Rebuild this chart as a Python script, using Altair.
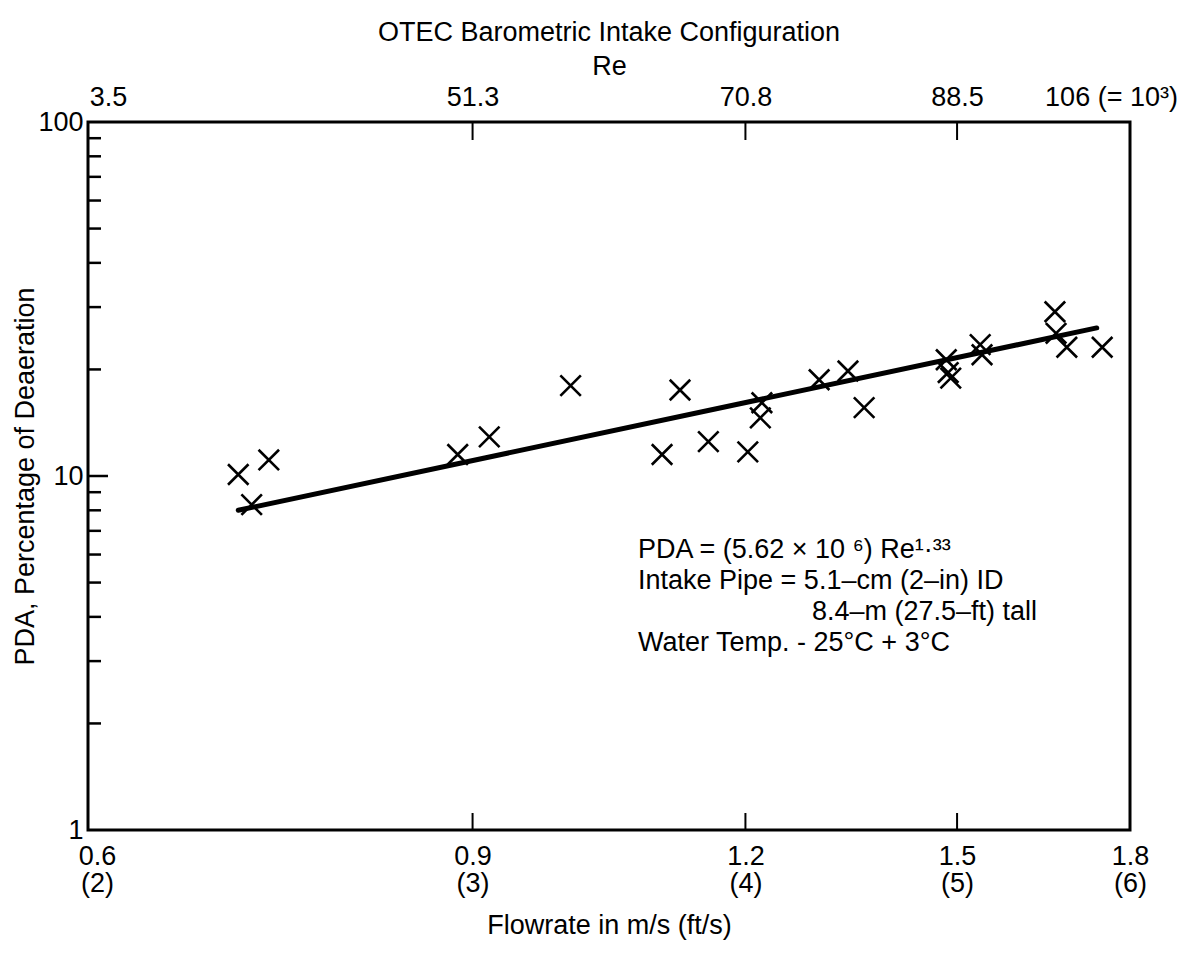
import altair as alt
import pandas as pd

# ---- data ----
flow = [0.703, 0.713, 0.726, 0.886, 0.916, 0.998, 1.099, 1.120, 1.154, 1.203,
        1.221, 1.219, 1.297, 1.337, 1.360, 1.483, 1.486, 1.490, 1.537, 1.540,
        1.663, 1.665, 1.684, 1.748]
pda = [10.1, 8.3, 11.1, 11.5, 12.9, 18.0, 11.5, 17.5, 12.5, 11.7,
       16.1, 14.6, 18.7, 19.8, 15.6, 21.3, 19.6, 18.9, 23.5, 22.0,
       29.1, 25.3, 23.1, 23.1]

fit_flow = [0.703, 1.738]
fit_pda = [8.0, 26.2]

x_ticks = [0.6, 0.9, 1.2, 1.5, 1.8]
ft_labels = ["(2)", "(3)", "(4)", "(5)", "(6)"]
re_labels = ["3.5", "51.3", "70.8", "88.5", "106 (= 10³)"]
inner_x_ticks = [0.9, 1.2, 1.5]
y_labels = [1, 10, 100]
y_minor = [2, 3, 4, 5, 6, 7, 8, 9, 20, 30, 40, 50, 60, 70, 80, 90]
y_major_inner = [10]

title_text = "OTEC Barometric Intake Configuration"
note_lines = ["PDA = (5.62 × 10 ⁶) Re¹·³³",
              "Intake Pipe = 5.1–cm (2–in) ID",
              "8.4–m (27.5–ft) tall",
              "Water Temp. - 25°C + 3°C"]

FONT = "Liberation Sans"
FS = 27
FS_NOTE = 27
W, H = 1042, 708

xscale = alt.Scale(type="log", domain=[0.6, 1.8], nice=False)
yscale = alt.Scale(type="log", domain=[1, 100], nice=False)

tick_arr = "[" + ",".join(str(v) for v in x_ticks) + "]"
ft_arr = "[" + ",".join("'" + s + "'" for s in ft_labels) + "]"
re_arr = "[" + ",".join("'" + s + "'" for s in re_labels) + "]"
idx = f"indexof({tick_arr}, datum.value)"

bottom_axis = alt.Axis(
    orient="bottom", values=x_ticks, ticks=False, domain=False, grid=False,
    labelExpr=f"[format(datum.value, '.1f'), {ft_arr}[{idx}]]",
    labelFont=FONT, labelFontSize=FS, labelColor="black", labelPadding=13,
    labelLineHeight=27, labelFlush=False,
    labelOffset={"expr": "datum.value < 0.61 ? 9 : 0"},
    title="Flowrate in m/s (ft/s)", titleFont=FONT, titleFontSize=FS,
    titleFontWeight="normal", titleColor="black", titlePadding=16,
)
top_axis = alt.Axis(
    orient="top", values=x_ticks, ticks=False, domain=False, grid=False,
    labelExpr=f"{re_arr}[{idx}]",
    labelFont=FONT, labelFontSize=FS, labelColor="black", labelPadding=11,
    labelFlush=False,
    labelOffset={"expr": "datum.value < 0.61 ? 20 : (datum.value > 1.79 ? -19 : 0)"},
    title="Re", titleFont=FONT, titleFontSize=FS, titleFontWeight="normal",
    titleColor="black", titlePadding=3,
)
y_axis = alt.Axis(
    values=y_labels, ticks=False, domain=False, grid=False, format="d",
    labelFont=FONT, labelFontSize=FS, labelColor="black", labelPadding=5,
    title="PDA, Percentage of Deaeration", titleFont=FONT, titleFontSize=FS,
    titleFontWeight="normal", titleColor="black", titlePadding=-2,
)

df_pts = pd.DataFrame({"flow": flow, "pda": pda})
df_fit = pd.DataFrame({"flow": fit_flow, "pda": fit_pda})

xshape = "M-1,-1L1,1M1,-1L-1,1"

points = alt.Chart(df_pts).mark_point(
    shape=xshape, filled=False, stroke="black", strokeWidth=2.6, size=420, opacity=1
).encode(
    x=alt.X("flow:Q", scale=xscale, axis=bottom_axis),
    y=alt.Y("pda:Q", scale=yscale, axis=y_axis),
)

fit = alt.Chart(df_fit).mark_line(color="black", strokeWidth=5, strokeCap="round").encode(
    x=alt.X("flow:Q", scale=xscale, axis=top_axis),
    y=alt.Y("pda:Q", scale=yscale, axis=y_axis),
)

ytick_minor = alt.Chart(pd.DataFrame({"v": y_minor})).mark_rule(
    color="black", strokeWidth=2.5
).encode(y=alt.Y("v:Q", scale=yscale, axis=y_axis), x=alt.value(0), x2=alt.value(13))

ytick_major = alt.Chart(pd.DataFrame({"v": y_major_inner})).mark_rule(
    color="black", strokeWidth=2.5
).encode(y=alt.Y("v:Q", scale=yscale, axis=y_axis), x=alt.value(0), x2=alt.value(20))

df_inner = pd.DataFrame({"v": inner_x_ticks})
xtick_bottom = alt.Chart(df_inner).mark_rule(color="black", strokeWidth=2).encode(
    x=alt.X("v:Q", scale=xscale, axis=None), y=alt.value(H), y2=alt.value(H - 17))
xtick_top = alt.Chart(df_inner).mark_rule(color="black", strokeWidth=2).encode(
    x=alt.X("v:Q", scale=xscale, axis=None), y=alt.value(0), y2=alt.value(18))

frame = alt.Chart(pd.DataFrame({"t": [title_text]})).mark_rect(
    fillOpacity=0, stroke="black", strokeWidth=3
).encode(x=alt.value(0), x2=alt.value(W), y=alt.value(0), y2=alt.value(H))

title = alt.Chart(pd.DataFrame({"t": [title_text]})).mark_text(
    font=FONT, fontSize=FS, color="black", align="center", baseline="middle"
).encode(text="t:N", x=alt.value(W / 2), y=alt.value(-89))

note_df = pd.DataFrame({"t": note_lines, "i": list(range(len(note_lines)))})
note_layers = []
for k in range(len(note_lines)):
    note_layers.append(
        alt.Chart(note_df).transform_filter(f"datum.i == {k}").mark_text(
            font=FONT, fontSize=FS_NOTE, color="black", align="left", baseline="middle"
        ).encode(text="t:N", x=alt.value(724 if k == 2 else 550),
                 y=alt.value(428 + 31 * k))
    )

chart = alt.layer(
    frame, fit, points, ytick_minor, ytick_major, xtick_bottom, xtick_top, title,
    *note_layers
).resolve_axis(x="independent").properties(
    width=W, height=H,
    autosize=alt.AutoSizeParams(type="none"),
    padding={"left": 80, "top": 114, "right": 50, "bottom": 120},
).configure(background="white")

chart.save("out.html", embed_options={"renderer": "svg", "actions": False})
